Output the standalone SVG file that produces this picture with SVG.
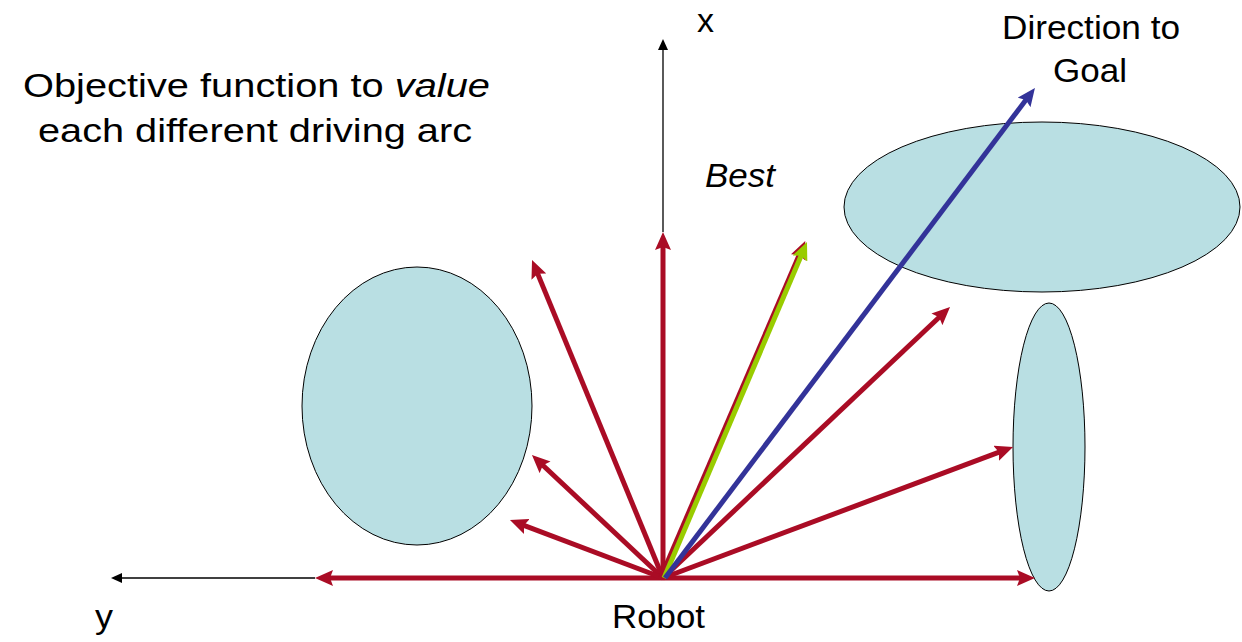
<svg xmlns="http://www.w3.org/2000/svg" width="1242" height="642" viewBox="0 0 1242 642">
<style>
text{font-family:"Liberation Sans",Arial,sans-serif;fill:#000;font-size:33px}
.obs{fill:#B9DFE3;stroke:#000;stroke-width:1}
.red{stroke:#AA0C25;stroke-width:5;fill:none}
.axis{stroke:#000;stroke-width:1.3;fill:none}
</style>
<defs>
<marker id="hr" markerUnits="userSpaceOnUse" markerWidth="18" markerHeight="16" refX="6" refY="8" orient="auto"><path d="M0,0 L18,8 L0,16 L3,8 z" fill="#AA0C25"/></marker>
<marker id="hg" markerUnits="userSpaceOnUse" markerWidth="18" markerHeight="16" refX="6" refY="8" orient="auto"><path d="M0,0 L18,8 L0,16 L3,8 z" fill="#99CC00"/></marker>
<marker id="hb" markerUnits="userSpaceOnUse" markerWidth="18" markerHeight="16" refX="6" refY="8" orient="auto"><path d="M0,0 L18,8 L0,16 L3,8 z" fill="#333399"/></marker>
<marker id="hk" markerUnits="userSpaceOnUse" markerWidth="11" markerHeight="10" refX="8" refY="5" orient="auto"><path d="M0,0 L11,5 L0,10 z" fill="#000"/></marker>
</defs>
<g id="obstacle-left"><ellipse class="obs" cx="417" cy="406" rx="115" ry="139"/></g>
<g id="obstacle-top-right"><ellipse class="obs" cx="1042" cy="207" rx="198" ry="85"/></g>
<g id="obstacle-right"><ellipse class="obs" cx="1049" cy="447" rx="36" ry="144"/></g>
<g id="connectors">
<line class="axis" x1="663" y1="232" x2="663" y2="42" marker-end="url(#hk)"/>
<line class="axis" x1="315" y1="578" x2="114" y2="578" marker-end="url(#hk)"/>
<line class="red" x1="663" y1="578" x2="327" y2="578" marker-end="url(#hr)"/>
<line class="red" x1="663" y1="578" x2="1023" y2="578" marker-end="url(#hr)"/>
<line class="red" x1="663" y1="578" x2="663" y2="244" marker-end="url(#hr)"/>
<line class="red" x1="663" y1="578" x2="536.6" y2="271.1" marker-end="url(#hr)"/>
<line class="red" x1="663" y1="578" x2="540.7" y2="463.2" marker-end="url(#hr)"/>
<line class="red" x1="663" y1="578" x2="521.2" y2="524.3" marker-end="url(#hr)"/>
<line class="red" x1="663" y1="578" x2="941.3" y2="315.2" marker-end="url(#hr)"/>
<line class="red" x1="663" y1="578" x2="1001.8" y2="451.2" marker-end="url(#hr)"/>
<line class="red" x1="661" y1="577" x2="800.5" y2="252" stroke-width="7" marker-end="url(#hr)"/>
<line x1="664" y1="578" x2="802.3" y2="253" stroke="#99CC00" stroke-width="5" marker-end="url(#hg)"/>
<line x1="665" y1="578" x2="1027.7" y2="97.6" stroke="#333399" stroke-width="5" marker-end="url(#hb)"/>
</g>
<g id="labels">
<text x="23" y="97" textLength="467" lengthAdjust="spacingAndGlyphs">Objective function to <tspan font-style="italic">value</tspan></text>
<text x="38" y="142" textLength="434" lengthAdjust="spacingAndGlyphs">each different driving arc</text>
<text x="697" y="32" textLength="17" lengthAdjust="spacingAndGlyphs">x</text>
<text x="705" y="187" font-style="italic" textLength="70" lengthAdjust="spacingAndGlyphs">Best</text>
<text x="1002" y="39" textLength="178" lengthAdjust="spacingAndGlyphs">Direction to</text>
<text x="1053" y="82" textLength="74" lengthAdjust="spacingAndGlyphs">Goal</text>
<text x="612" y="628" textLength="93" lengthAdjust="spacingAndGlyphs">Robot</text>
<text x="95" y="628" textLength="18" lengthAdjust="spacingAndGlyphs">y</text>
</g>
</svg>
